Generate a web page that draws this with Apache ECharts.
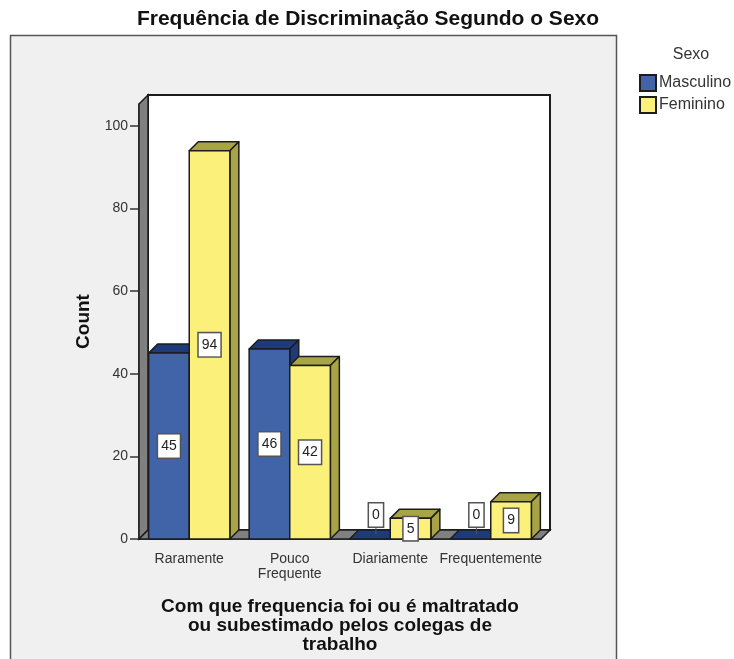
<!DOCTYPE html>
<html>
<head>
<meta charset="utf-8">
<title>Frequência de Discriminação Segundo o Sexo</title>
<script src="https://cdn.jsdelivr.net/npm/echarts@6/dist/echarts.min.js"></script>
<style>
  html, body { margin: 0; padding: 0; background: #fff; }
  #chart { width: 734px; height: 659px; }
</style>
</head>
<body>
<div id="chart"></div>
<script>
const categories = ['Raramente', 'Pouco\nFrequente', 'Diariamente', 'Frequentemente'];
const masculino = [45, 46, 0, 0];
const feminino = [94, 42, 5, 9];
const yTicks = [0, 20, 40, 60, 80, 100];

const font = 'Liberation Sans';
const depth = 9; // profundidade do efeito 3D
const edge = '#1c1c1c';

// paredes e chao do grafico
const renderWalls = (params) => {
  const c = params.coordSys;
  const l = c.x, r = c.x + c.width, t = c.y, b = c.y + c.height;
  const poly = (points, fill, lineWidth) => ({
    type: 'polygon',
    shape: { points },
    style: { fill, stroke: edge, lineWidth }
  });
  return {
    type: 'group',
    children: [
      poly([[l + depth, t - depth], [r + depth, t - depth], [r + depth, b - depth], [l + depth, b - depth]], '#fff', 2),
      poly([[l, t], [l + depth, t - depth], [l + depth, b - depth], [l, b]], '#808080', 1.5),
      poly([[l, b], [l + depth, b - depth], [r + depth, b - depth], [r, b]], '#808080', 1.5)
    ]
  };
};

// barra 3D: side -1 fica a esquerda do centro, side 1 a direita
const renderBar = (side, front, dark) => (params, api) => {
  const idx = api.value(0);
  const val = api.value(1);
  const top = api.coord([idx, val]);
  const base = api.coord([idx, 0]);
  const w = api.size([1, 0])[0] * 0.404;
  const x0 = side < 0 ? top[0] - w : top[0];
  const x1 = x0 + w;
  const y0 = top[1], y1 = base[1];
  const stroke = { stroke: edge, lineWidth: 1.5, lineJoin: 'round' };
  const children = [
    { type: 'polygon', shape: { points: [[x0, y0], [x0 + depth, y0 - depth], [x1 + depth, y0 - depth], [x1, y0]] }, style: { fill: dark, ...stroke } },
    { type: 'polygon', shape: { points: [[x1, y0], [x1 + depth, y0 - depth], [x1 + depth, y1 - depth], [x1, y1]] }, style: { fill: dark, ...stroke } }
  ];
  if (val > 0) {
    children.push({ type: 'rect', shape: { x: x0, y: y0, width: w, height: y1 - y0 }, style: { fill: front, ...stroke } });
  }
  const cx = val > 0 ? (x0 + x1) / 2 : (x0 + x1) / 2 + 6;
  const cy = val > 0 ? (y0 + y1) / 2 : y1 - 24;
  if (val === 0) {
    children.push({ type: 'line', shape: { x1: cx, y1: cy, x2: cx, y2: y1 - 5 }, style: { stroke: '#555', lineWidth: 1 } });
  }
  children.push({
    type: 'text',
    z2: 10,
    style: {
      x: cx, y: cy, text: String(val), align: 'center', verticalAlign: 'middle',
      font: '14px "' + font + '"', fill: '#222',
      backgroundColor: '#fff', borderColor: '#555', borderWidth: 1.5, padding: [5, 3, 4, 3]
    }
  });
  return { type: 'group', children };
};

const chart = echarts.init(document.getElementById('chart'));
chart.setOption({
  animation: false,
  backgroundColor: '#fff',
  title: [
    {
      text: 'Frequência de Discriminação Segundo o Sexo',
      left: 363, top: 4, textAlign: 'center',
      textStyle: { fontFamily: font, fontSize: 21, fontWeight: 'bold', color: '#111' }
    },
    {
      text: 'Sexo',
      left: 686, top: 42, textAlign: 'center',
      textStyle: { fontFamily: font, fontSize: 16, fontWeight: 'normal', color: '#333' }
    }
  ],
  graphic: [{
    type: 'rect',
    z: -1,
    shape: { x: 10.5, y: 35.5, width: 606, height: 640 },
    style: { fill: '#f0f0f0', stroke: '#555', lineWidth: 1.5 }
  }],
  legend: {
    left: 634, top: 69, orient: 'vertical', itemWidth: 16, itemHeight: 16, itemGap: 4,
    icon: 'rect',
    data: ['Masculino', 'Feminino'],
    textStyle: { fontFamily: font, fontSize: 16, color: '#333', padding: [0, 0, 0, -2] }
  },
  grid: { left: 139, right: 193, top: 104, bottom: 116.5 },
  xAxis: {
    type: 'category',
    data: categories,
    name: 'Com que frequencia foi ou é maltratado\nou subestimado pelos colegas de\ntrabalho',
    nameLocation: 'middle',
    nameGap: 58,
    nameTextStyle: { fontFamily: font, fontSize: 19, fontWeight: 'bold', color: '#111', lineHeight: 19 },
    axisLine: { lineStyle: { color: edge, width: 1.5 } },
    axisTick: { alignWithLabel: true, length: 9, lineStyle: { color: '#333', width: 1.5 } },
    axisLabel: { interval: 0, fontFamily: font, fontSize: 14, color: '#333', margin: 13, lineHeight: 15, hideOverlap: false }
  },
  yAxis: {
    type: 'value',
    min: 0,
    max: 105.3,
    name: 'Count',
    nameLocation: 'middle',
    nameGap: 45,
    nameTextStyle: { fontFamily: font, fontSize: 19, fontWeight: 'bold', color: '#111' },
    splitLine: { show: false },
    axisLine: { show: true, lineStyle: { color: edge, width: 1.5 } },
    axisTick: { show: true, length: 9, customValues: yTicks, lineStyle: { color: '#333', width: 1.5 } },
    axisLabel: { customValues: yTicks, fontFamily: font, fontSize: 14, color: '#333', margin: 11 }
  },
  series: [
    {
      type: 'custom', name: 'walls', z: 1, silent: true, coordinateSystem: 'cartesian2d',
      renderItem: renderWalls, data: [[0, 0]], encode: { x: 0, y: 1 }
    },
    {
      type: 'custom', name: 'Masculino', z: 2, coordinateSystem: 'cartesian2d',
      itemStyle: { color: '#4163a8', borderColor: edge, borderWidth: 1.5 },
      renderItem: renderBar(-1, '#4163a8', '#1f3a78'),
      data: masculino.map((v, i) => [i, v]), encode: { x: 0, y: 1 }
    },
    {
      type: 'custom', name: 'Feminino', z: 3, coordinateSystem: 'cartesian2d',
      itemStyle: { color: '#fbf07a', borderColor: edge, borderWidth: 1.5 },
      renderItem: renderBar(1, '#fbf07a', '#a8a446'),
      data: feminino.map((v, i) => [i, v]), encode: { x: 0, y: 1 }
    }
  ]
});
</script>
</body>
</html>
